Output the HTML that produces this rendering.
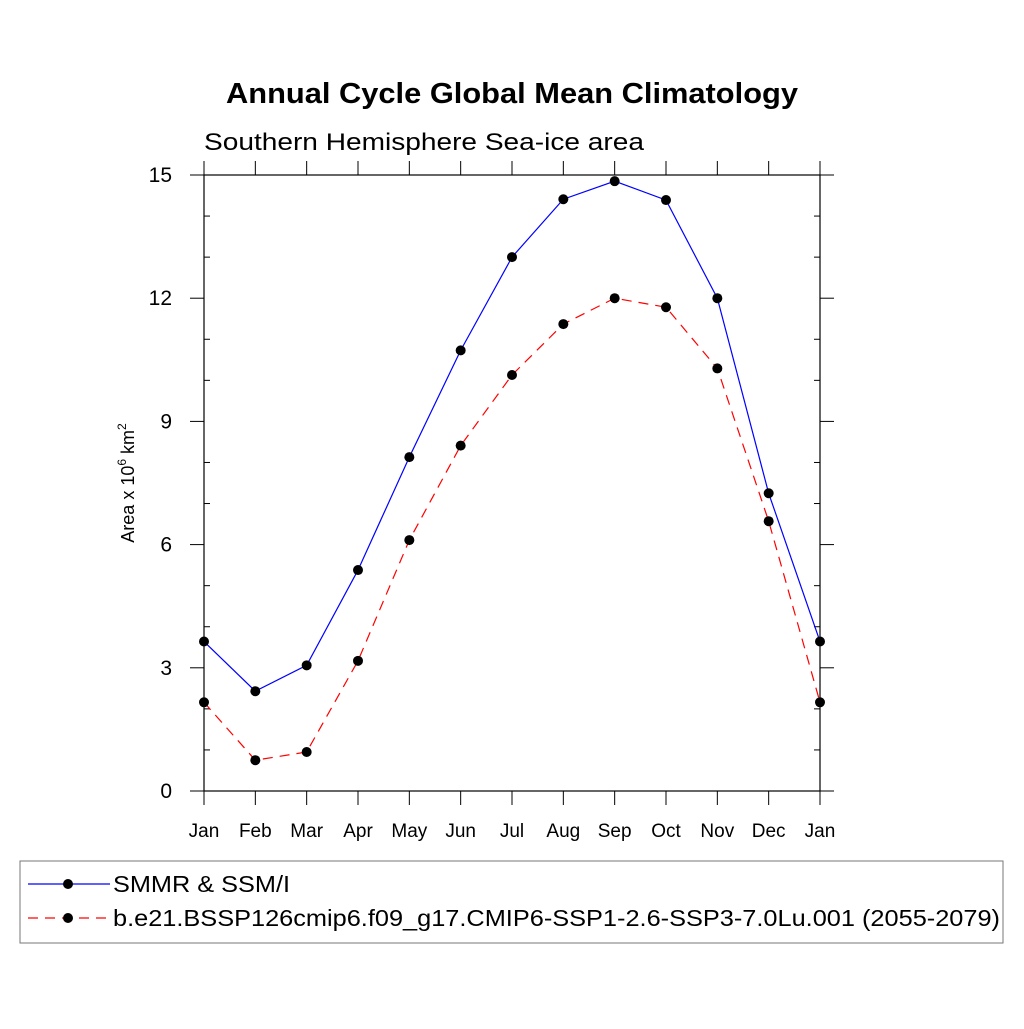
<!DOCTYPE html>
<html><head><meta charset="utf-8"><style>body{margin:0;background:#fff}svg text{font-family:"Liberation Sans",sans-serif}</style></head>
<body>
<svg width="1024" height="1024" id="svg">
<text x="226" y="103" font-size="29" font-weight="bold" textLength="572" lengthAdjust="spacingAndGlyphs">Annual Cycle Global Mean Climatology</text>
<text x="204" y="150" font-size="24" textLength="440" lengthAdjust="spacingAndGlyphs">Southern Hemisphere Sea-ice area</text>
<text transform="translate(134,483) rotate(-90)" text-anchor="middle" font-size="18">Area x 10<tspan dy="-8" font-size="12">6</tspan><tspan dy="8"> km</tspan><tspan dy="-8" font-size="12">2</tspan></text>
<rect x="204" y="175" width="616" height="616" fill="none" stroke="#000" stroke-width="1.2"/>
<g id="axes"></g><g id="series"></g>
<rect x="20" y="861" width="983" height="82" fill="none" stroke="#777"/>
<g><line x1="28" y1="884" x2="110" y2="884" stroke="#00f" stroke-width="1.2"/><circle cx="68" cy="884" r="5" fill="#000"/><text x="113" y="892" font-size="23" textLength="177" lengthAdjust="spacingAndGlyphs">SMMR &amp; SSM/I</text></g>
<g><line x1="28" y1="918" x2="110" y2="918" stroke="#f00" stroke-width="1.2" stroke-dasharray="10,7"/><circle cx="68" cy="918" r="5" fill="#000"/><text x="113" y="926" font-size="23" textLength="887" lengthAdjust="spacingAndGlyphs">b.e21.BSSP126cmip6.f09_g17.CMIP6-SSP1-2.6-SSP3-7.0Lu.001 (2055-2079)</text></g>
</svg>
<script>
const months=["Jan","Feb","Mar","Apr","May","Jun","Jul","Aug","Sep","Oct","Nov","Dec","Jan"];
const obsValues=[3.64,2.43,3.06,5.38,8.13,10.73,13.0,14.41,14.85,14.39,12.0,7.25,3.64];
const modelValues=[2.16,0.75,0.95,3.17,6.11,8.41,10.13,11.37,12.0,11.78,10.29,6.57,2.16];
const yTicks=[0,3,6,9,12,15];
const NS="http://www.w3.org/2000/svg";
const X0=204,X1=820,Y0=791,Y1=175,YMAX=15;
const xs=i=>X0+i*(X1-X0)/(months.length-1);
const ys=v=>Y0-v*(Y0-Y1)/YMAX;
function mk(t,a,p){const e=document.createElementNS(NS,t);for(const k in a)e.setAttribute(k,a[k]);p.appendChild(e);return e;}
const ax=document.getElementById('axes');
months.forEach((m,i)=>{const x=xs(i);
 mk('line',{x1:x,y1:Y0,x2:x,y2:Y0+14,stroke:'#000'},ax);
 mk('line',{x1:x,y1:Y1,x2:x,y2:Y1-14,stroke:'#000'},ax);
 const t=mk('text',{x:x,y:837,'text-anchor':'middle','font-size':19},ax);t.textContent=m;
 
 });
for(let v=0;v<=YMAX;v++){const y=ys(v);
 if(v%3===0){mk('line',{x1:X0-14,y1:y,x2:X0,y2:y,stroke:'#000'},ax);mk('line',{x1:X1,y1:y,x2:X1+14,y2:y,stroke:'#000'},ax);}
 else{mk('line',{x1:X0,y1:y,x2:X0+6,y2:y,stroke:'#000'},ax);mk('line',{x1:X1-6,y1:y,x2:X1,y2:y,stroke:'#000'},ax);}}
yTicks.forEach(v=>{const t=mk('text',{x:X0-32,y:ys(v)+7,'text-anchor':'end','font-size':21},ax);t.textContent=v;
 
 });
const sg=document.getElementById('series');
function draw(vals,color,dash,name){
 const p=mk('polyline',{points:vals.map((v,i)=>xs(i)+','+ys(v)).join(' '),fill:'none',stroke:color,'stroke-width':1.2,'stroke-dasharray':dash},sg);
 
 
 vals.forEach((v,i)=>{const c=mk('circle',{cx:xs(i),cy:ys(v),r:5,fill:'#000'},sg);
  
  });}
draw(obsValues,'#00f','none','obs');
draw(modelValues,'#f00','10,7','model');
</script>
</body></html>
